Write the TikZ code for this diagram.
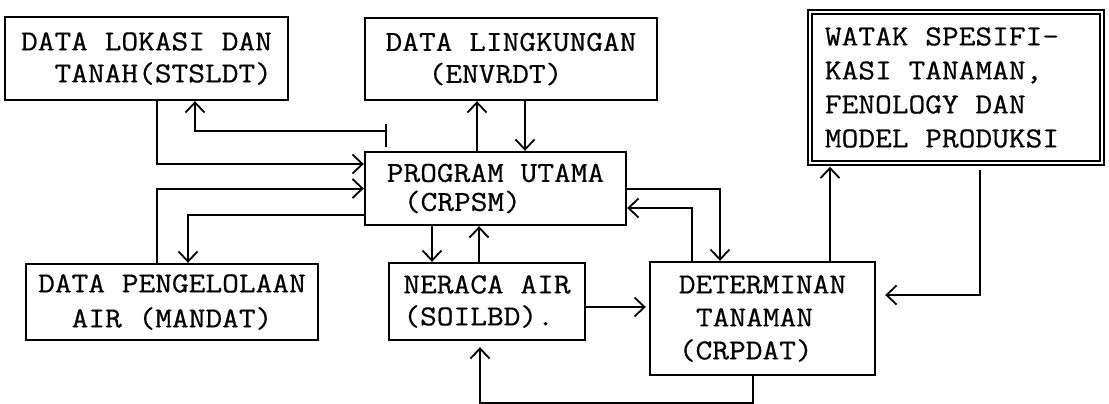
\documentclass[tikz,border=0pt]{standalone}
\usepackage{fontspec}
\newfontfamily\typewriter{Latin Modern Mono}[FakeStretch=1.12,FakeBold=0.6]
\usetikzlibrary{arrows.meta}
\begin{document}
\begin{tikzpicture}[x=1pt,y=-1pt,
  tw/.style={font=\typewriter\fontsize{29}{#1}\selectfont},
  box/.style={draw, line width=2.4pt, inner sep=0pt, align=left, tw=32},
  ln/.style={line width=2.0pt},
  thin/.style={line width=1.4pt},
  tip/.tip={Straight Barb[length=10pt,width=19pt,line width=1.8pt]},
  arr/.style={ln, -tip},
  thinarr/.style={thin, -tip}]
\useasboundingbox (0,0) rectangle (1109,404);

% data boxes
\node[box, align=right, minimum width=283, minimum height=83] (lok) at (146.5,58.5)
  {DATA LOKASI DAN\\TANAH(STSLDT)};
\node[box, minimum width=292, minimum height=82] (env) at (511,59)
  {DATA LINGKUNGAN\\\hspace*{43pt}(ENVRDT)};
\node[box, double, double distance=2.5pt, line width=1.6pt, tw=34,
      minimum width=292, minimum height=151] (wat) at (956,87.5)
  {WATAK SPESIFI-\\KASI TANAMAN,\\FENOLOGY DAN\\MODEL PRODUKSI\hspace*{28pt}};
\node[box, tw=29, minimum width=261, minimum height=73] (pu) at (495.5,188.5)
  {PROGRAM UTAMA\\\hspace*{17.1pt}(CRPSM)};
\node[box, align=center, tw=35, minimum width=292, minimum height=76] (man) at (172,302)
  {DATA PENGELOLAAN\\AIR (MANDAT)};
\node[box, minimum width=196, minimum height=77] (ner) at (487,301.5)
  {NERACA AIR\\(SOILBD).};
\node[box, tw=33, minimum width=225, minimum height=113] (det) at (762.5,318.5)
  {DETERMINAN\\\hspace*{17.1pt}TANAMAN\\(CRPDAT)};

% site and soil data <-> main program
\draw[arr] ([xshift=10.5]lok.south) |- ([yshift=24.5]pu.west);
\coordinate (tee) at (386,131);
\draw[ln] ([xshift=-109.5,yshift=4]pu.north) -- ([xshift=-109.5,yshift=27]pu.north);
\draw[arr] (tee) -| ([xshift=48.5]lok.south);

% water management data <-> main program
\draw[arr] ([xshift=-15]man.north) |- (pu.west);
\draw[arr] ([yshift=-26.5]pu.west) -| ([xshift=16]man.north);

% environment data <-> main program
\draw[arr] ([xshift=-18.5]pu.north) -- ([xshift=-34]env.south);
\draw[arr] ([xshift=14]env.south) -- ([xshift=29.5]pu.north);

% main program <-> water balance
\draw[arr] ([xshift=-63.5]pu.south) -- ([xshift=-55]ner.north);
\draw[arr] ([xshift=-8]ner.north) -- ([xshift=-16.5]pu.south);

% water balance -> crop determinants
\draw[thinarr, shorten >=3pt] ([yshift=-5.5]ner.east) -- ([yshift=11.5]det.west);
\draw[arr, shorten >=6pt] ([xshift=-9.5]det.south) -- ++(0,27) -| ([xshift=-7]ner.south);

% main program <-> crop determinants
\draw[arr] (pu.east) -| ([xshift=-42.5]det.north);
\draw[arr] ([xshift=-70.5]det.north) |- ([yshift=-19.5]pu.east);

% crop determinants <-> crop specification
\draw[arr, shorten >=3pt] ([xshift=67.5]det.north) -- ([xshift=-126]wat.south);
\draw[thinarr, shorten >=9pt] ([xshift=24,yshift=-6]wat.south) |- ([yshift=23.5]det.east);
\end{tikzpicture}
\end{document}
